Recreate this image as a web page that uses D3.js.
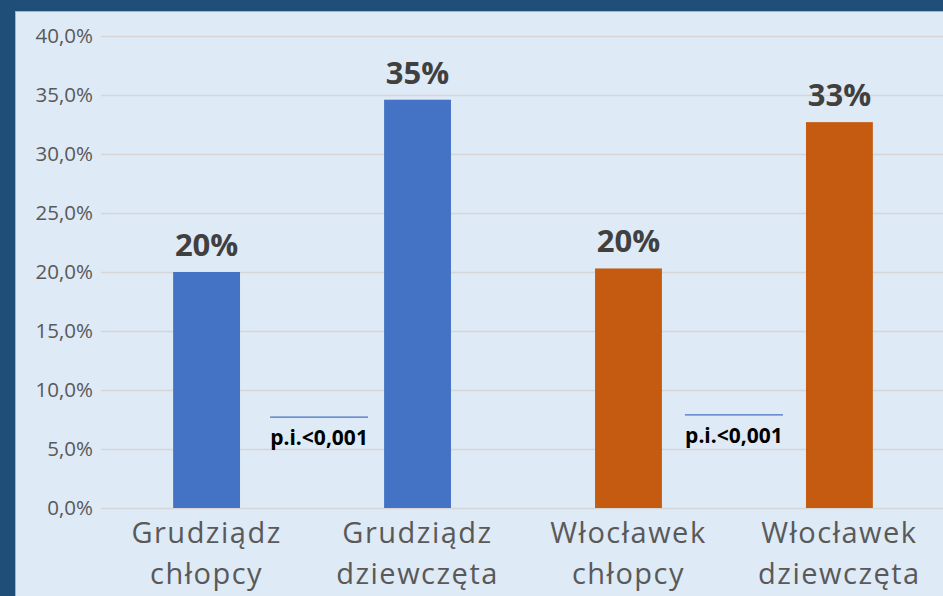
<!DOCTYPE html>
<html><head><meta charset="utf-8">
<script src="https://cdn.jsdelivr.net/npm/d3@7"></script>
<style>
html,body{margin:0;padding:0;background:#1F4E79;}
svg{display:block;}
</style></head>
<body>
<svg id="c" width="943" height="596"></svg>
<script>
const categories = [["Grudziądz","chłopcy"],["Grudziądz","dziewczęta"],["Włocławek","chłopcy"],["Włocławek","dziewczęta"]];
const values = [20.0, 34.6, 20.3, 32.7];
const valueLabels = ["20%","35%","20%","33%"];
const barColors = ["#4472C4","#4472C4","#C55A11","#C55A11"];
const yTicks = [0,5,10,15,20,25,30,35,40];
const sigPairs = [[0,1],[2,3]];
const sigLevels = [7.7, 7.9];
const sigLabels = ["p.i.<0,001","p.i.<0,001"];

const FONT = "'Open Sans', 'Noto Sans', sans-serif";
const svg = d3.select("#c");
const W = 943, H = 596;
svg.append("rect").attr("x",0).attr("y",0).attr("width",W).attr("height",H).attr("fill","#1F4E79");
svg.append("rect").attr("x",15.5).attr("y",11.5).attr("width",W).attr("height",H).attr("fill","#DEEAF6").attr("stroke","#A6B4C2").attr("stroke-width",1);

const y = d3.scaleLinear().domain([0,40]).range([508,36]);
const x = d3.scaleBand().domain(d3.range(categories.length)).range([101,945]).paddingInner(0.683).paddingOuter(0.342);

const yAxis = d3.axisLeft(y).tickValues(yTicks).tickSize(-(W-101)).tickPadding(8)
  .tickFormat(d => d3.format(".1f")(d).replace(".", ",") + "%");
const ga = svg.append("g").attr("transform","translate(101,0)").call(yAxis);
ga.select(".domain").remove();
ga.selectAll(".tick line").attr("stroke","#D6D6D6").attr("stroke-width",1.5);
ga.selectAll(".tick text").attr("fill","#595959").style("font-family",FONT).style("font-size","20.5px").attr("x",-8);

svg.selectAll("rect.bar").data(values).enter().append("rect").attr("class","bar")
  .attr("x",(d,i)=>x(i)).attr("width",x.bandwidth())
  .attr("y",d=>y(d)).attr("height",d=>y(0)-y(d))
  .attr("fill",(d,i)=>barColors[i]);

svg.selectAll("text.vl").data(values).enter().append("text").attr("class","vl")
  .attr("x",(d,i)=>x(i)+x.bandwidth()/2).attr("y",d=>y(d)-16)
  .attr("text-anchor","middle").attr("fill","#404040")
  .style("font-family",FONT).style("font-weight","bold").style("font-size","31px")
  .text((d,i)=>valueLabels[i]);

const cat = svg.selectAll("g.cat").data(categories).enter().append("g").attr("class","cat");
cat.each(function(lines,i){
  const g = d3.select(this);
  lines.forEach((t,j)=>{
    g.append("text").attr("x",x(i)+x.bandwidth()/2).attr("y",543+j*41)
      .attr("text-anchor","middle").attr("fill","#595959")
      .style("font-family",FONT).style("font-size","29px")
      .style("letter-spacing","1.5px")
      .text(t);
  });
});

sigPairs.forEach((p,k)=>{
  const mid = (x(p[0]) + x(p[1]) + x.bandwidth())/2 + (k===0?7:0);
  svg.append("line").attr("x1",mid-49).attr("x2",mid+49)
    .attr("y1",y(sigLevels[k])).attr("y2",y(sigLevels[k]))
    .attr("stroke","#4472C4").attr("stroke-width",1.2);
  svg.append("text").attr("x",mid).attr("y",y(sigLevels[k])+28)
    .attr("text-anchor","middle").attr("fill","#000")
    .style("font-family",FONT).style("font-weight","bold").style("font-size","21px")
    .text(sigLabels[k]);
});
</script>
</body></html>
